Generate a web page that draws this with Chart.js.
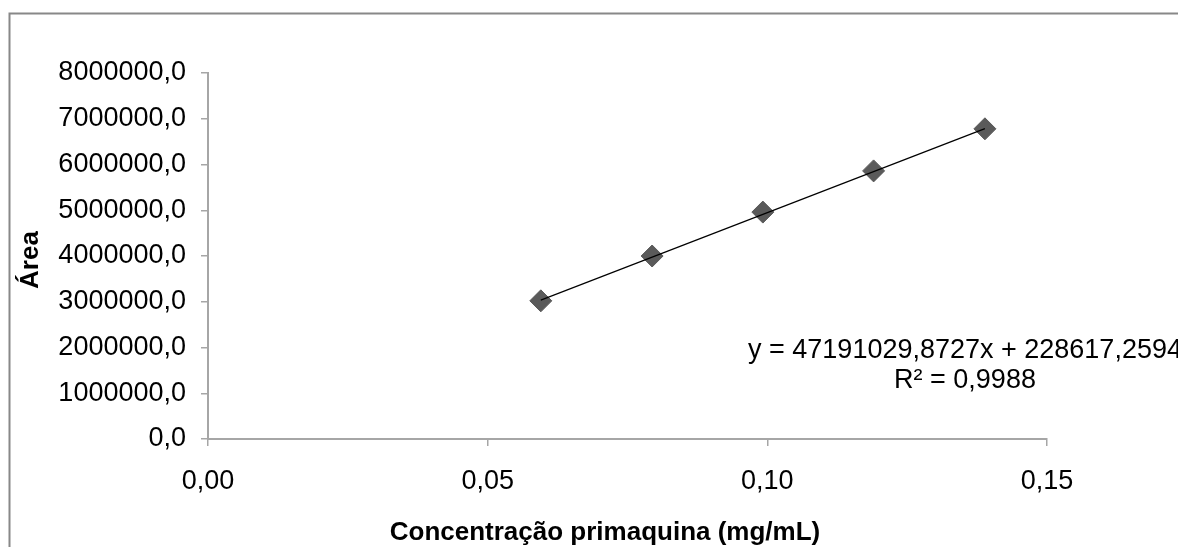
<!DOCTYPE html>
<html>
<head>
<meta charset="utf-8">
<script src="https://cdn.jsdelivr.net/npm/chart.js@4.4.1/dist/chart.umd.min.js"></script>
<style>
  html, body { margin: 0; padding: 0; background: #ffffff; }
</style>
</head>
<body>
<canvas id="grafico" width="1178" height="547"></canvas>
<script>
// pontos da curva de calibração
const concentracoes = [0.0595, 0.0794, 0.0992, 0.1190, 0.1389];
const areas = [3020000, 4000000, 4960000, 5860000, 6780000];

// ticks dos eixos
const ticksX = [0, 0.05, 0.10, 0.15];
const ticksY = [0, 1000000, 2000000, 3000000, 4000000, 5000000, 6000000, 7000000, 8000000];

// regressão linear (linha de tendência)
const inclinacao = 47191029.8727;
const intercepto = 228617.2594;
const r2 = 0.9988;

const fonte = "'Liberation Sans', Arial, sans-serif";
const corEixo = "#a6a6a6";

function virgula(v, casas) {
  return v.toFixed(casas).replace(".", ",");
}

const pontos = concentracoes.map((c, i) => ({ x: c, y: areas[i] }));
const xMin = Math.min(...concentracoes);
const xMax = Math.max(...concentracoes);
const tendencia = [xMin, xMax].map((x) => ({ x: x, y: inclinacao * x + intercepto }));

const molduraPlugin = {
  id: "moldura",
  beforeDraw(chart) {
    const ctx = chart.ctx;
    ctx.save();
    ctx.fillStyle = "#ffffff";
    ctx.fillRect(0, 0, chart.width, chart.height);
    ctx.strokeStyle = "#888888";
    ctx.lineWidth = 2;
    ctx.strokeRect(9.5, 13.5, 1400, 800);
    ctx.restore();
  },
  afterDraw(chart) {
    const ctx = chart.ctx;
    ctx.save();
    ctx.fillStyle = "#000000";
    // títulos dos eixos
    ctx.font = "bold 26px " + fonte;
    ctx.textAlign = "center";
    ctx.textBaseline = "alphabetic";
    ctx.fillText("Concentração primaquina (mg/mL)", 605, 540);
    ctx.save();
    ctx.translate(38, 260);
    ctx.rotate(-Math.PI / 2);
    ctx.fillText("Área", 0, 0);
    ctx.restore();
    // equação da reta
    ctx.font = "27px " + fonte;
    ctx.fillText("y = " + virgula(inclinacao, 4) + "x + " + virgula(intercepto, 4), 965, 358);
    ctx.fillText("R² = " + virgula(r2, 4), 965, 388);
    ctx.restore();
  },
};

new Chart(document.getElementById("grafico"), {
  type: "scatter",
  data: {
    datasets: [
      {
        label: "Linear",
        data: tendencia,
        showLine: true,
        borderColor: "#000000",
        borderWidth: 1.2,
        pointRadius: 0,
        order: 0,
      },
      {
        label: "Área",
        data: pontos,
        pointStyle: "rectRot",
        pointRadius: 11,
        backgroundColor: "#5a5a5a",
        borderColor: "#5a5a5a",
        borderWidth: 1,
        order: 1,
      },
    ],
  },
  options: {
    responsive: false,
    animation: false,
    devicePixelRatio: 1,
    layout: { padding: { left: 0, top: 73, right: 131, bottom: 0 } },
    plugins: { legend: { display: false }, tooltip: { enabled: false } },
    scales: {
      x: {
        type: "linear",
        min: 0,
        max: 0.15,
        afterBuildTicks: (escala) => {
          escala.ticks = ticksX.map((v) => ({ value: v }));
        },
        afterFit: (escala) => {
          escala.height = 108;
        },
        ticks: {
          color: "#000000",
          font: { family: fonte, size: 27 },
          padding: 19,
          maxRotation: 0,
          callback: (v) => virgula(v, 2),
        },
        grid: { drawOnChartArea: false, tickLength: 7, color: corEixo, lineWidth: 1.5 },
        border: { color: corEixo, width: 2 },
      },
      y: {
        type: "linear",
        min: 0,
        max: 8000000,
        afterBuildTicks: (escala) => {
          escala.ticks = ticksY.map((v) => ({ value: v }));
        },
        afterFit: (escala) => {
          escala.width = 208;
        },
        ticks: {
          color: "#000000",
          font: { family: fonte, size: 27 },
          padding: 15,
          callback: (v) => virgula(v, 1),
        },
        grid: { drawOnChartArea: false, tickLength: 7, color: corEixo, lineWidth: 1.5 },
        border: { color: corEixo, width: 2 },
      },
    },
  },
  plugins: [molduraPlugin],
});
</script>
</body>
</html>
